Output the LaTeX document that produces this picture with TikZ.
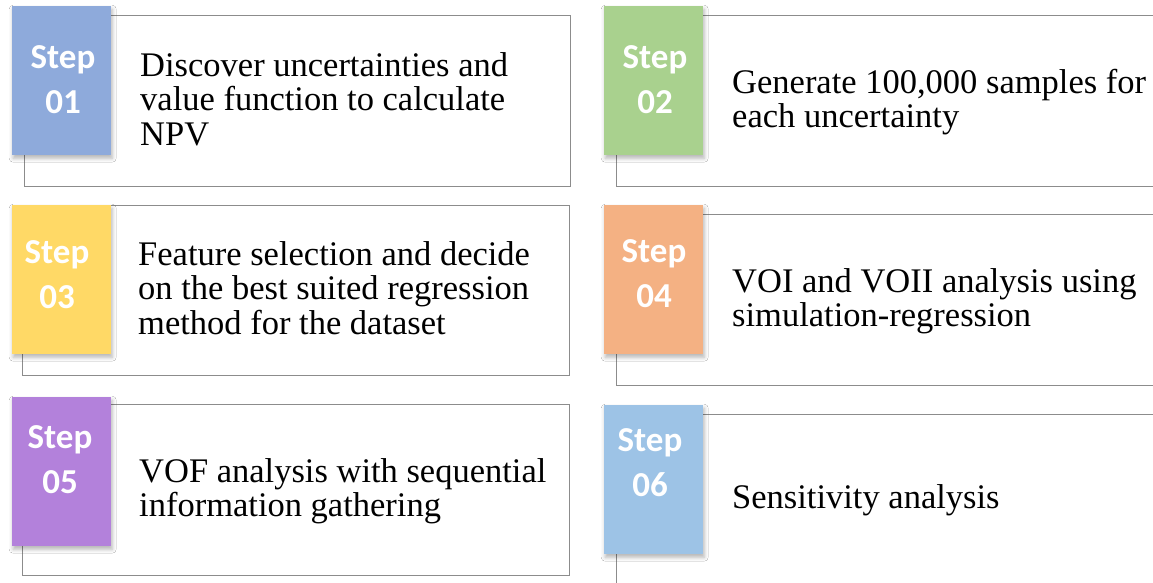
\documentclass[tikz,border=0pt]{standalone}
\usepackage{fontspec}
\setmainfont{Liberation Serif}
\newfontfamily\stepfont{Carlito}
\usetikzlibrary{shadows.blur}

\definecolor{boxgray}{HTML}{8C8C8C}
\definecolor{tabA}{HTML}{8EAADB}
\definecolor{tabB}{HTML}{A9D18E}
\definecolor{tabC}{HTML}{FFD966}
\definecolor{tabD}{HTML}{F4B183}
\definecolor{tabE}{HTML}{B381DB}
\definecolor{tabF}{HTML}{9DC3E6}

\begin{document}
\begin{tikzpicture}[x=1pt, y=-1pt,
  panel/.style={draw=boxgray, line width=1.2pt, fill=white, anchor=north west,
    inner sep=0pt, minimum height=171pt},
  tab/.style={anchor=north west, inner sep=0pt, minimum width=99pt, minimum height=149pt,
    blur shadow={shadow xshift=1pt, shadow yshift=-3pt, shadow blur radius=4pt,
      shadow opacity=30}},
  steplabel/.style={anchor=base, text=white, inner sep=0pt, align=center, text width=99pt,
    font=\stepfont\bfseries\fontsize{35}{45}\selectfont},
  desc/.style={anchor=base west, inner sep=0pt, align=flush left, text width=440pt,
    font=\fontsize{34.5}{34.5}\selectfont}]

\useasboundingbox (0,0) rectangle (1153,582);
\fill[white] (0,0) rectangle (1153,582);

% outlined panels
\node[panel, minimum width=546pt] (b1) at (24,15) {};
\node[panel, minimum width=544pt] (b2) at (616,15) {};
\node[panel, minimum width=547pt, minimum height=170pt] (b3) at (22,205) {};
\node[panel, minimum width=544pt] (b4) at (616,214) {};
\node[panel, minimum width=547pt] (b5) at (22,404) {};
\node[panel, minimum width=544pt, minimum height=176pt] (b6) at (616,414) {};

% coloured step tabs
\node[tab, fill=tabA] (t1) at (12,6) {};
\node[tab, fill=tabB] (t2) at (604,6) {};
\node[tab, fill=tabC] (t3) at (12,205) {};
\node[tab, fill=tabD] (t4) at (604,205) {};
\node[tab, fill=tabE] (t5) at (12,397) {};
\node[tab, fill=tabF] (t6) at (604,405) {};

% tab labels
\node[steplabel] (s1) at (63,68) {Step\\01};
\node[steplabel] (s2) at (655,68) {Step\\02};
\node[steplabel] (s3) at (57,263) {Step\\03};
\node[steplabel] (s4) at (654,262) {Step\\04};
\node[steplabel] (s5) at (60,448) {Step\\05};
\node[steplabel] (s6) at (650,451) {Step\\06};

% step descriptions
\node[desc] (d1) at (140,76) {Discover uncertainties and\\value function to calculate\\NPV};
\node[desc] (d2) at (732,93) {Generate 100,000 samples for\\each uncertainty};
\node[desc] (d3) at (138,265) {Feature selection and decide\\on the best suited regression\\method for the dataset};
\node[desc] (d4) at (732,292) {VOI and VOII analysis using\\simulation-regression};
\node[desc] (d5) at (139,482) {VOF analysis with sequential\\information gathering};
\node[desc] (d6) at (732,508) {Sensitivity analysis};
\end{tikzpicture}
\end{document}
